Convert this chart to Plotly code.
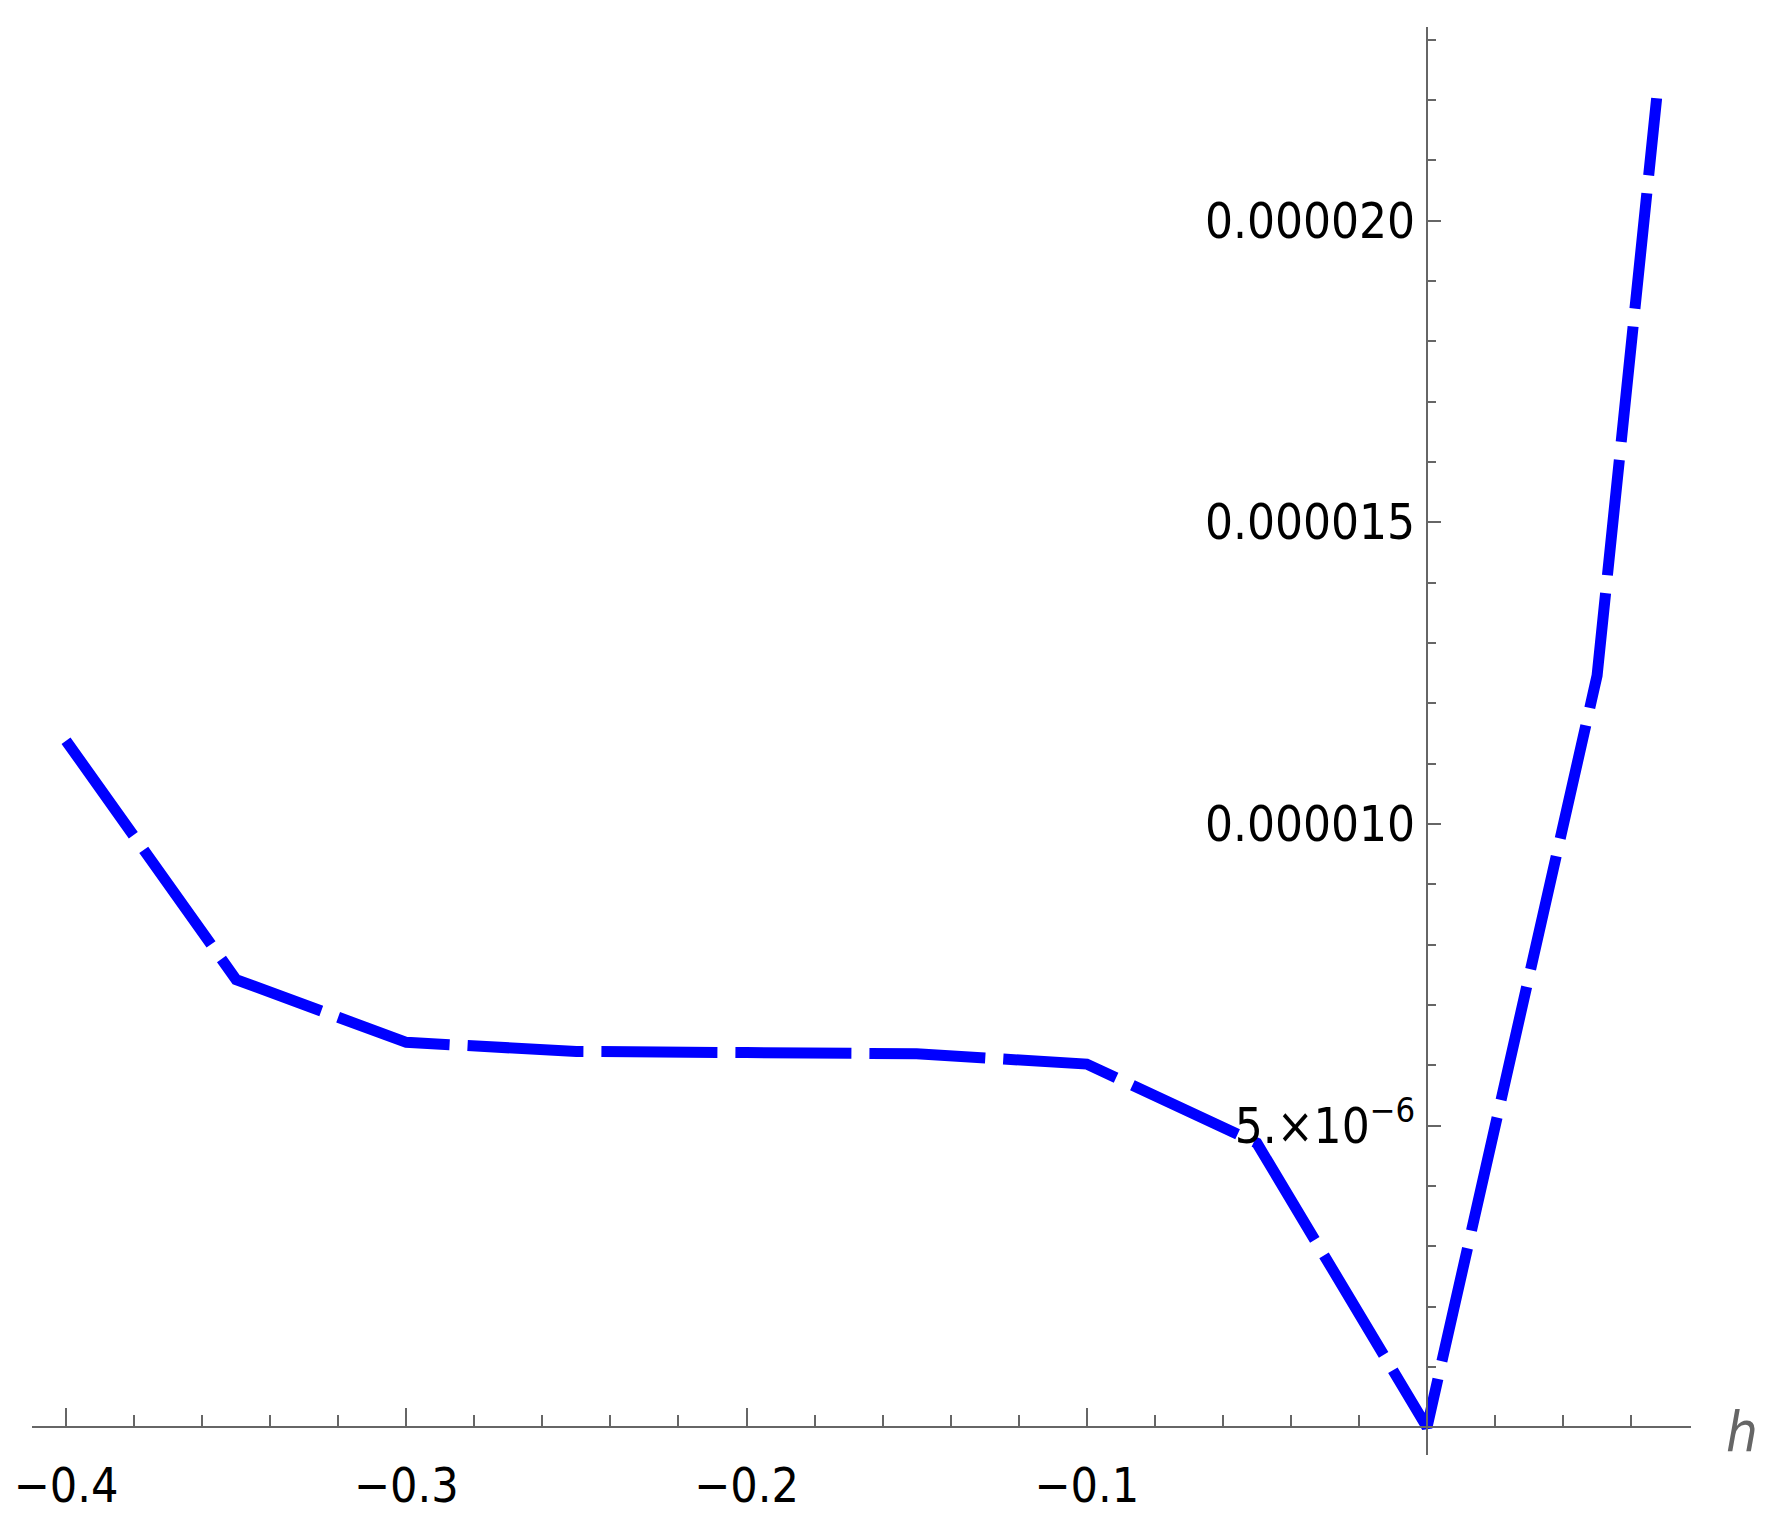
import plotly.graph_objects as go

# ---- data ----
h_values = [-0.40, -0.35, -0.30, -0.25, -0.20, -0.15, -0.10, -0.05, 0.00, 0.05, 0.0675]
f_values = [11.38e-6, 7.42e-6, 6.38e-6, 6.23e-6, 6.21e-6, 6.19e-6, 6.02e-6, 4.71e-6, 0.0, 12.46e-6, 22.03e-6]

x_tick_vals = [-0.4, -0.3, -0.2, -0.1]
x_tick_text = ["\u22120.4", "\u22120.3", "\u22120.2", "\u22120.1"]
y_tick_vals = [5e-6, 10e-6, 15e-6, 20e-6]
y_tick_text = ["5.\u00d710<sup>\u22126</sup>", "0.000010", "0.000015", "0.000020"]

x_range = [-0.41, 0.0776]
y_range = [-0.46e-6, 23.21e-6]

FONT = "Liberation Sans Narrow, DejaVu Sans Condensed, Arial Narrow, Liberation Sans, sans-serif"
AXIS_COLOR = "#666666"

fig = go.Figure()
fig.add_trace(go.Scatter(
    x=h_values, y=f_values, mode="lines",
    line=dict(color="#0000FF", width=11, dash="116px,18px"),
    showlegend=False, hoverinfo="skip",
))

x_pos = (0 - y_range[0]) / (y_range[1] - y_range[0])
y_pos = (0 - x_range[0]) / (x_range[1] - x_range[0])

# page body has an 8px default margin, so the figure is sized to fit the window
fig.update_layout(
    width=1771, height=1524,
    margin=dict(l=24, r=88, t=19, b=77, autoexpand=False),
    paper_bgcolor="white", plot_bgcolor="white",
    xaxis=dict(
        range=x_range, anchor="free", position=x_pos, automargin=False,
        showgrid=False, zeroline=False,
        showline=True, linecolor=AXIS_COLOR, linewidth=2,
        ticks="inside", ticklen=18, tickwidth=2, tickcolor=AXIS_COLOR,
        tickmode="array", tickvals=x_tick_vals, ticktext=x_tick_text,
        ticklabelstandoff=16,
        tickfont=dict(family=FONT, size=48, color="black"),
        minor=dict(ticks="inside", ticklen=11, tickwidth=2, tickcolor=AXIS_COLOR,
                   tick0=0, dtick=0.02, showgrid=False),
    ),
    yaxis=dict(
        range=y_range, anchor="free", position=y_pos, automargin=False,
        showgrid=False, zeroline=False,
        showline=True, linecolor=AXIS_COLOR, linewidth=2,
        ticks="inside", ticklen=13, tickwidth=2, tickcolor=AXIS_COLOR,
        tickmode="array", tickvals=y_tick_vals, ticktext=y_tick_text,
        ticklabelstandoff=1,
        tickfont=dict(family=FONT, size=49, color="black"),
        minor=dict(ticks="inside", ticklen=8, tickwidth=2, tickcolor=AXIS_COLOR,
                   tick0=0, dtick=1e-6, showgrid=False),
    ),
    annotations=[dict(
        text="h", xref="paper", yref="y", x=1.031, y=0,
        xanchor="center", yanchor="middle", yshift=-4, showarrow=False,
        font=dict(family=FONT, size=56, color=AXIS_COLOR, style="italic"),
    )],
)

fig.write_html("out.html")
